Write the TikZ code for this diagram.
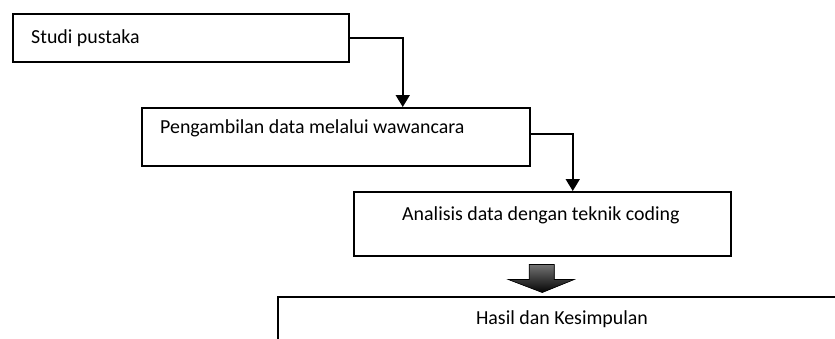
\documentclass[tikz,border=0pt]{standalone}
\usepackage{fontspec}
\setmainfont{Carlito}
\usetikzlibrary{arrows.meta,calc,positioning}
\tikzset{
    kotak/.style = {rectangle,
                    fill=white,
                    draw=black,
                    line width=1.5pt,
                    anchor=north west,
                    inner sep=0pt},
    teks/.style =  {inner sep=0pt,
                    text=black,
                    font=\fontsize{19.9}{23}\selectfont},
    alur/.style =  {draw=black,
                    line width=1.8pt,
                    -{Triangle[width=14pt,length=12pt]}},
    panah/.style = {draw=black,
                    line width=0.6pt,
                    fill=black!85,
                    path picture={\shade[top color=black!55,bottom color=black]
                        (path picture bounding box.north west) rectangle
                        ([yshift=-15pt]path picture bounding box.east);
                        \shade[top color=black,bottom color=black!50]
                        ([yshift=-15pt]path picture bounding box.west) rectangle
                        (path picture bounding box.south east);}}}

\begin{document}
\begin{tikzpicture}[x=1pt,y=-1pt]
                \useasboundingbox (0,0) rectangle (835,338);
                \clip (0,0) rectangle (835,338);
                % kotak-kotak tahapan
                \node[kotak,minimum width=336pt,minimum height=48pt] (studi) at (12,13) {};
                \node[kotak,minimum width=388pt,minimum height=58pt] (pengambilan) at (141,107) {};
                \node[kotak,minimum width=377pt,minimum height=64pt] (analisis) at (353,191) {};
                \node[kotak,minimum width=600pt,minimum height=90pt] (hasil) at (277,296) {};
                % teks
                \node[teks,anchor=west] (tstudi) at ($(studi.west)+(19,0)$) {Studi pustaka};
                \node[teks,anchor=west] (tpengambilan) at ($(pengambilan.west)+(19,-8)$) {Pengambilan data melalui wawancara};
                \node[teks,anchor=west] (tanalisis) at ($(analisis.west)+(49,-8)$) {Analisis data dengan teknik coding};
                \node[teks] (thasil) at (562,319) {Hasil dan Kesimpulan};
                % panah
                \path [alur]  (studi.east) -| ([xshift=67pt]pengambilan.north);
                \path [alur]  ([yshift=3pt]pengambilan.east) -| ([xshift=30.5pt]analisis.north);
                \path [panah] ($(analisis.south)+(-13,8)$) -- ++(25,0) -- ++(0,15) -- ++(20,0)
                              -- ($(analisis.south)+(0,36)$) -- ++(-34,-13) -- ++(21,0) -- cycle;
        \end{tikzpicture}
\end{document}
